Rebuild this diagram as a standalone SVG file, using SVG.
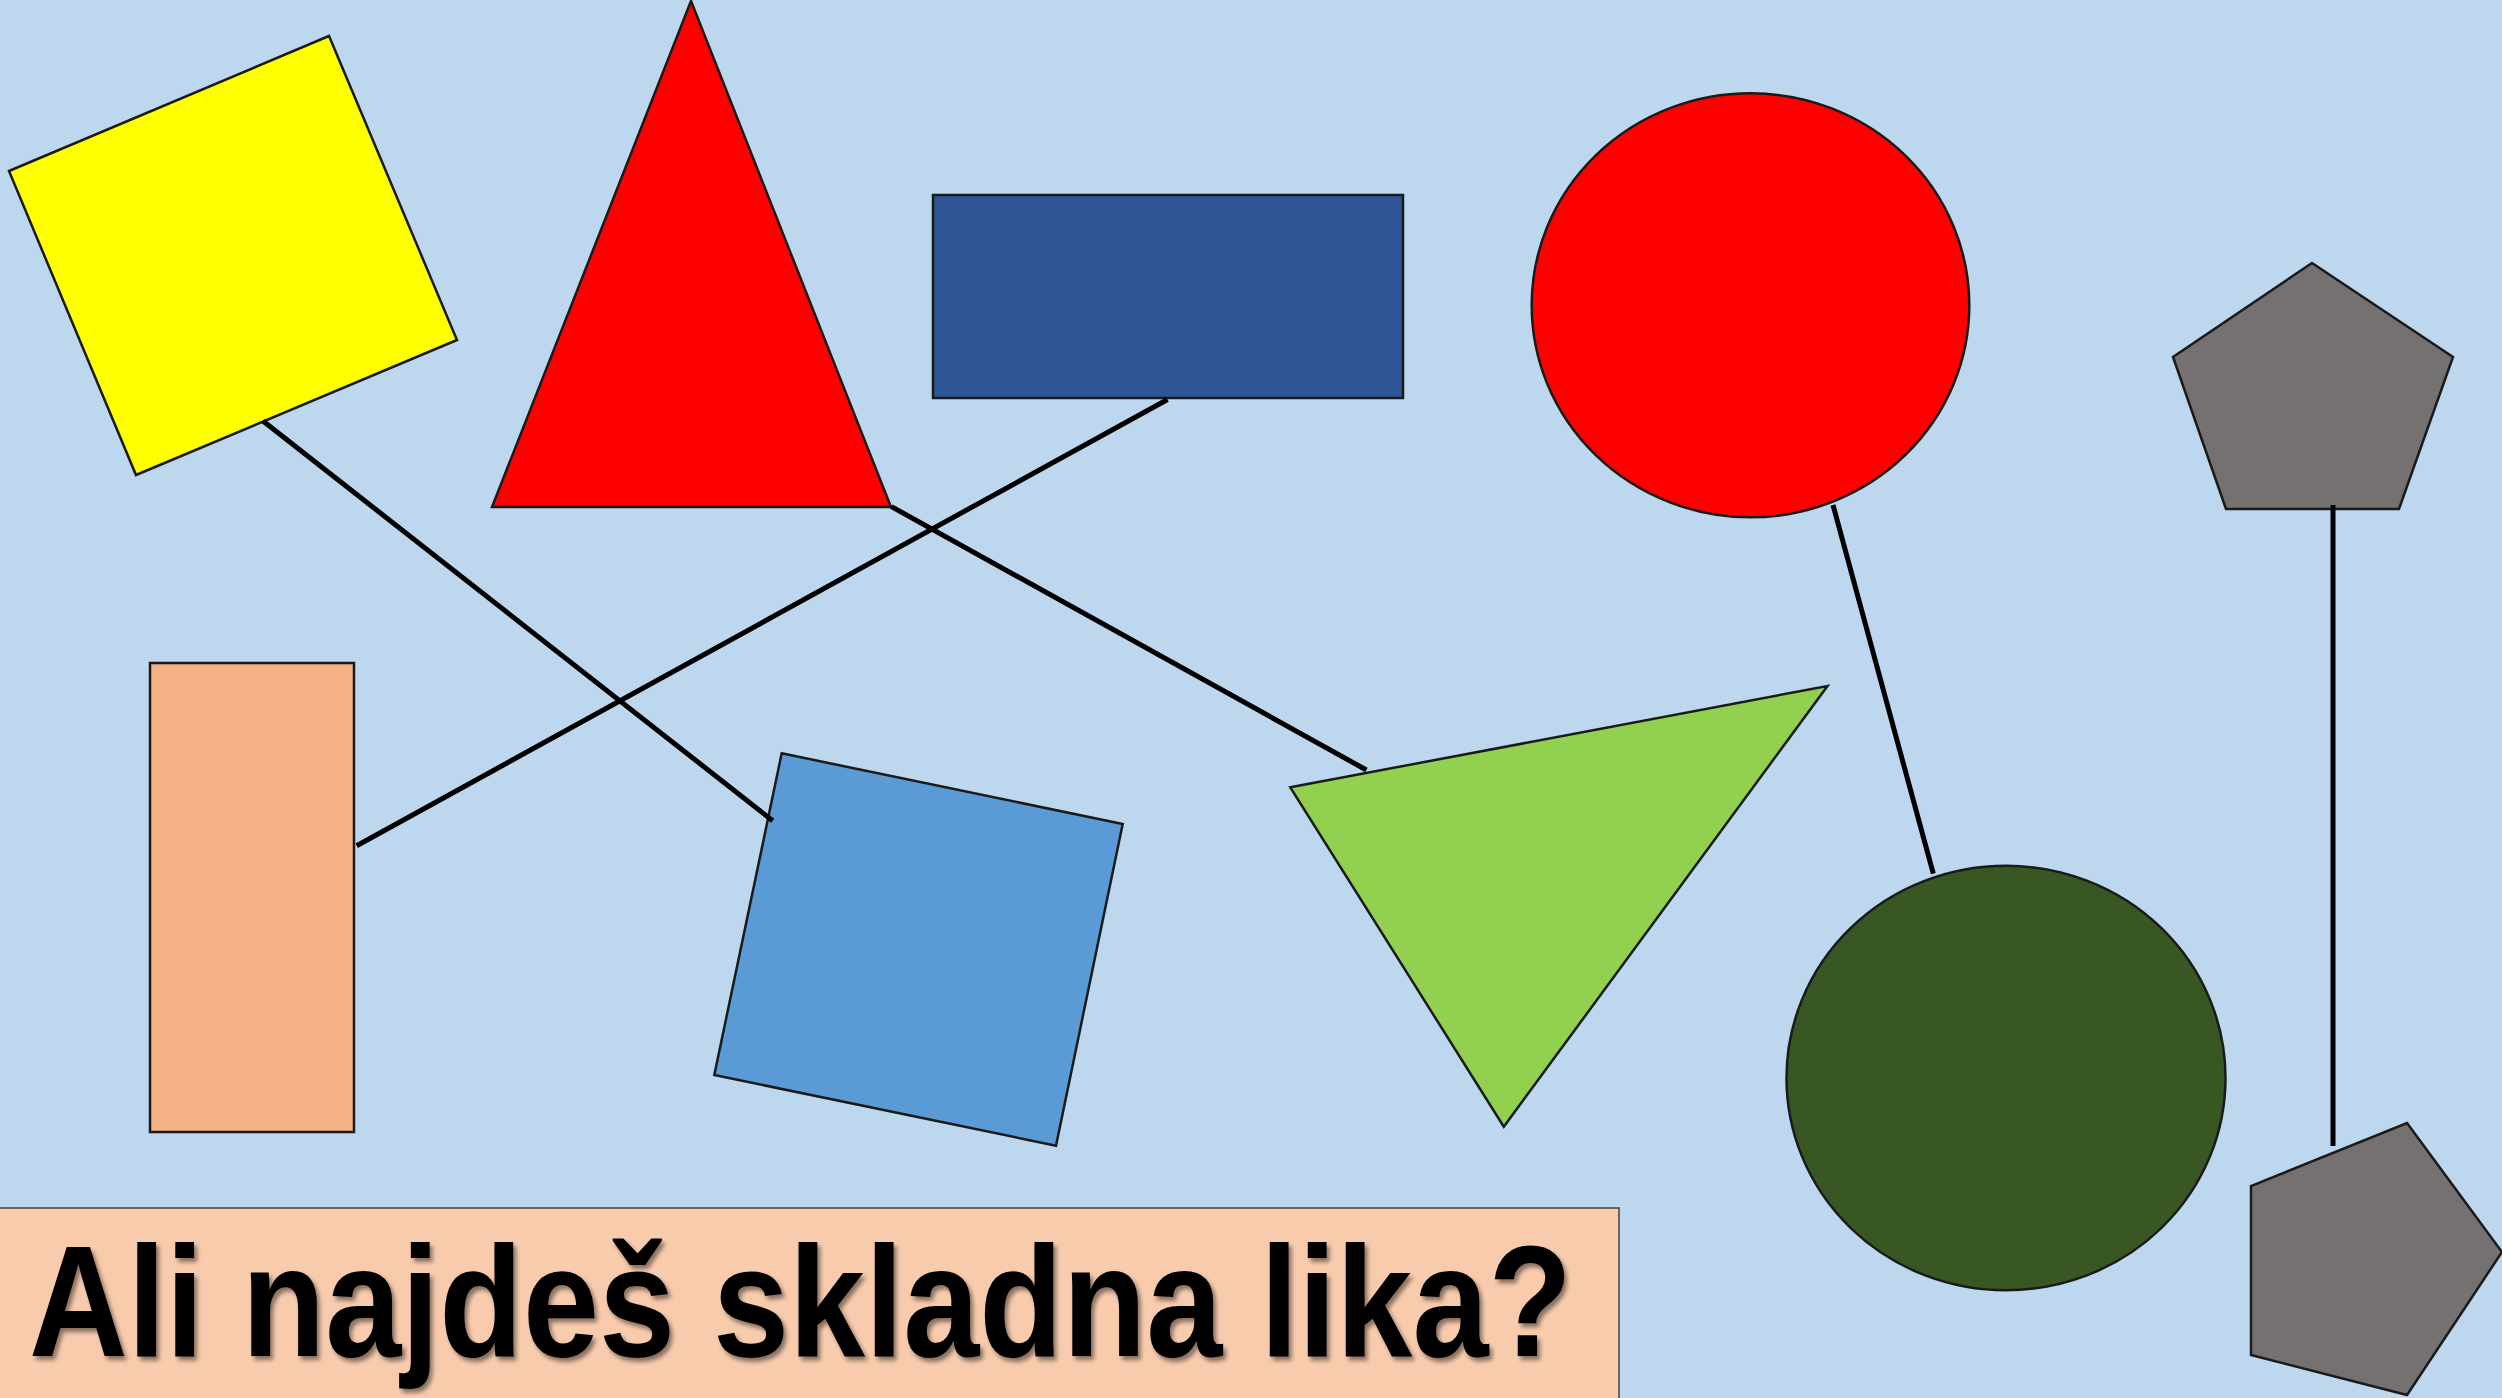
<svg xmlns="http://www.w3.org/2000/svg" width="2502" height="1398" viewBox="0 0 2502 1398">
<defs>
<style>
.shape{stroke:#1a1a1a;stroke-width:2.5;stroke-linejoin:miter}
.conn line{stroke:#000;stroke-width:5;stroke-linecap:butt}
.title{font-family:"Liberation Sans",Arial,sans-serif;font-weight:bold;font-size:158px;fill:#000}
</style>
<filter id="shadow" x="-5%" y="-20%" width="110%" height="140%">
<feDropShadow dx="3" dy="4" stdDeviation="2" flood-color="#000" flood-opacity="0.45"/>
</filter>
</defs>
<rect x="0" y="0" width="2502" height="1398" fill="#BDD7EE"/>
<g id="yellow-square"><polygon class="shape" fill="#FFFF00" points="9,171 329,36 457,340 136,475"/></g>
<g id="red-triangle"><polygon class="shape" fill="#FF0000" points="691,1 891,507 492,507"/></g>
<g id="blue-rect"><rect class="shape" fill="#2F5597" x="933" y="195" width="470" height="203"/></g>
<g id="red-circle"><ellipse class="shape" fill="#FF0000" cx="1750.5" cy="305.3" rx="218.8" ry="212"/></g>
<g id="gray-pentagon-top"><polygon class="shape" fill="#767171" points="2312,263 2453,357 2399,509 2226,509 2173,357"/></g>
<g id="orange-rect"><rect class="shape" fill="#F4B183" x="150" y="663" width="204" height="469"/></g>
<g id="lightblue-square"><polygon class="shape" fill="#5B9BD5" points="781.7,753.3 1122.7,824 1056,1145.7 714.3,1075"/></g>
<g id="green-triangle"><polygon class="shape" fill="#92D050" points="1290.3,787.3 1827.5,686 1503.8,1126.7"/></g>
<g id="green-circle"><ellipse class="shape" fill="#385723" cx="2006" cy="1078" rx="219.5" ry="212.3"/></g>
<g id="gray-pentagon-bottom"><polygon class="shape" fill="#767171" points="2407,1123 2502,1252 2407,1395 2251,1355 2251,1186"/></g>
<g id="connectors" class="conn">
<line x1="263" y1="421" x2="772.7" y2="820.7"/>
<line x1="1167.5" y1="399.5" x2="356.7" y2="845.7"/>
<line x1="891.4" y1="506.6" x2="1366.4" y2="770"/>
<line x1="1833" y1="505" x2="1933.3" y2="873.7"/>
<line x1="2333" y1="505" x2="2333" y2="1146"/>
</g>
<g id="title-box">
<rect x="-2" y="1208" width="1621" height="200" fill="#F8CBAD" stroke="#404040" stroke-width="1.5"/>
<text class="title" x="29" y="1356" textLength="1543" lengthAdjust="spacingAndGlyphs" filter="url(#shadow)">Ali najdeš skladna lika?</text>
</g>
</svg>
